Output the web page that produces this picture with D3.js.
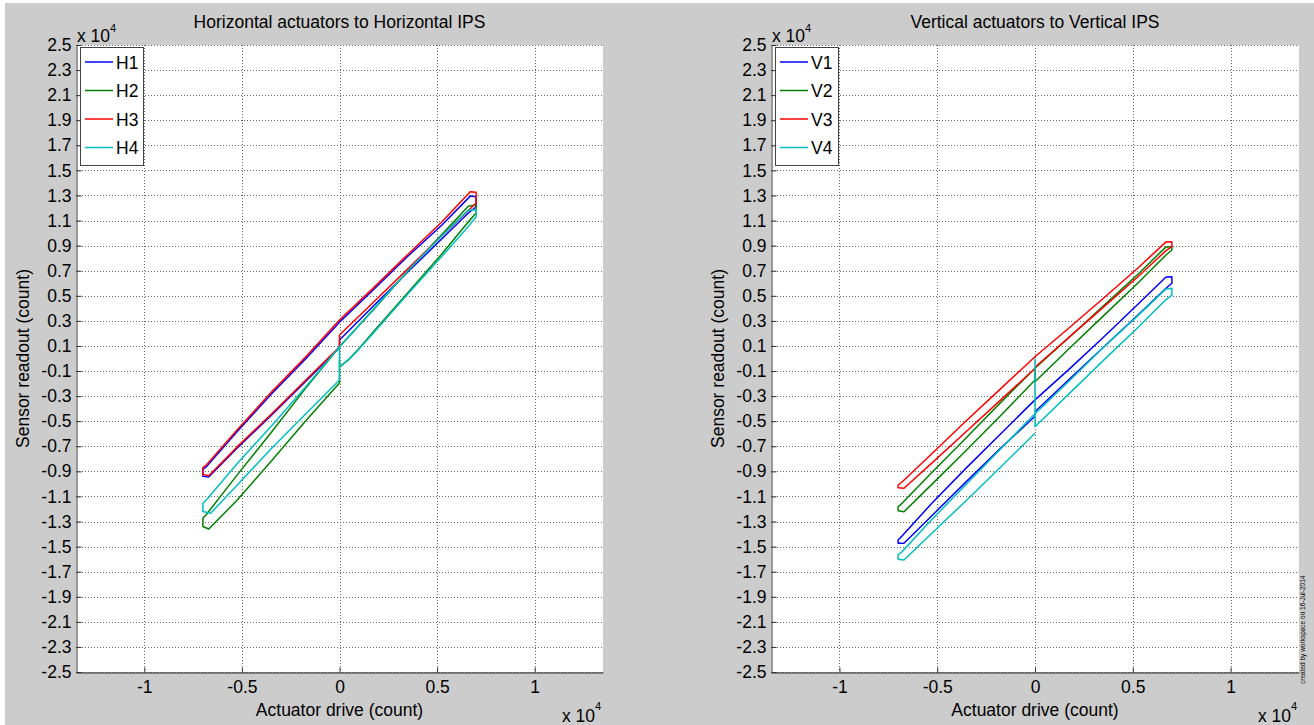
<!DOCTYPE html>
<html><head><meta charset="utf-8">
<script src="https://cdn.jsdelivr.net/npm/d3@7"></script>
<style>
html,body{margin:0;padding:0;background:#fff;}
svg{display:block;}
text{font-family:"Liberation Sans",Arial,Helvetica,sans-serif;fill:#000;}
</style></head>
<body>
<svg id="fig" width="1314" height="725"></svg>
<script>
// ---------- data ----------
const xTickVals = [-10000, -5000, 0, 5000, 10000];
const xTickLabels = ["-1", "-0.5", "0", "0.5", "1"];
const yTickVals = [25000, 23000, 21000, 19000, 17000, 15000, 13000, 11000, 9000, 7000, 5000, 3000, 1000,
  -1000, -3000, -5000, -7000, -9000, -11000, -13000, -15000, -17000, -19000, -21000, -23000, -25000];
const yTickLabels = ["2.5", "2.3", "2.1", "1.9", "1.7", "1.5", "1.3", "1.1", "0.9", "0.7", "0.5", "0.3", "0.1",
  "-0.1", "-0.3", "-0.5", "-0.7", "-0.9", "-1.1", "-1.3", "-1.5", "-1.7", "-1.9", "-2.1", "-2.3", "-2.5"];

const hNames = ["H1", "H2", "H3", "H4"];
const vNames = ["V1", "V2", "V3", "V4"];
const seriesColors = ["#0000ff", "#008000", "#ff0000", "#00bfbf"];

// [actuator drive, sensor readout]
const H1 = [[0,1475],[1750,4200],[3500,6900],[5250,9550],[6600,11600],[7000,12100],[7000,12900],[6700,12950],
  [5250,10650],[3500,8150],[1750,5500],[0,2900],[-1750,-50],[-3500,-2850],[-5250,-5850],[-6800,-8600],[-7000,-8850],
  [-7000,-9400],[-6700,-9450],[-5250,-7150],[-3500,-4550],[-1750,-1850],[0,850],[0,1475]];
const H2 = [[0,-120],[0,-700],[500,-50],[1000,800],[1750,2150],[3500,5250],[5250,8350],[6500,10700],[7000,11600],[7000,12250],
  [6600,12150],[5250,9900],[3500,6980],[1750,3900],[0,940],[-1750,-2400],[-3500,-5900],[-5250,-9300],[-6800,-12400],
  [-7000,-12740],[-7000,-13400],[-6700,-13600],[-5250,-11300],[-3500,-8200],[-1750,-5000],[0,-1950],[0,-700]];
const H3 = [[0,1870],[1750,4500],[3500,7150],[5250,9800],[6600,11800],[7000,12400],[7000,13250],[6700,13300],
  [5250,10900],[3500,8300],[1750,5650],[0,3070],[-1750,100],[-3500,-2700],[-5250,-5700],[-6800,-8450],[-7000,-8700],
  [-7000,-9250],[-6700,-9350],[-5250,-7050],[-3500,-4450],[-1750,-1750],[0,940],[0,1870]];
const H4 = [[0,940],[0,-650],[500,-50],[1000,750],[1750,2050],[3500,5150],[5250,8150],[6500,10350],[7000,11310],[7000,11840],
  [6600,11840],[5250,9800],[3500,7000],[1750,3950],[0,940],[-1750,-2300],[-3500,-5400],[-5250,-8400],[-6800,-11250],
  [-7000,-11540],[-7000,-12200],[-6600,-12340],[-5250,-10100],[-3500,-7200],[-1750,-4450],[0,-1710],[0,-650]];

const V1 = [[0,-4240],[1750,-1650],[3500,900],[5250,3450],[6700,5600],[7000,6000],[7000,6520],[6700,6500],
  [5250,4300],[3500,1700],[1750,-850],[0,-3300],[-1750,-6000],[-3500,-8700],[-5250,-11500],[-6800,-14150],[-7000,-14470],
  [-7000,-14740],[-6700,-14740],[-5250,-12500],[-3500,-9800],[-1750,-7150],[0,-4600]];
const V2 = [[0,-780],[0,-1850],[1750,800],[3500,3400],[5250,6000],[6700,8250],[7000,8650],[7000,8920],[6700,8900],
  [5250,6700],[3500,4200],[1750,1700],[0,-780],[-1750,-3500],[-3500,-6300],[-5250,-9050],[-6800,-11550],[-7000,-11820],
  [-7000,-12150],[-6700,-12220],[-5250,-10000],[-3500,-7300],[-1750,-4550],[0,-1710]];
const V3 = [[0,-700],[1750,1700],[3500,4100],[5250,6500],[6700,8600],[7000,8920],[7000,9310],[6700,9300],
  [5250,7200],[3500,4800],[1750,2450],[0,140],[-1750,-2400],[-3500,-4950],[-5250,-7550],[-6800,-9850],[-7000,-10090],
  [-7000,-10300],[-6700,-10350],[-5250,-8300],[-3500,-5800],[-1750,-3300],[0,-800]];
const V4 = [[0,0],[0,-5440],[1750,-2800],[3500,-150],[5250,2450],[6700,4700],[7000,5060],[7000,5600],[6700,5550],
  [5250,3400],[3500,900],[1750,-1800],[0,-4400],[-1750,-7200],[-3500,-10000],[-5250,-12800],[-6800,-15400],[-7000,-15670],
  [-7000,-16000],[-6700,-16070],[-5250,-13900],[-3500,-11300],[-1750,-8650],[0,-5960]];

const panels = [
  {title: "Horizontal actuators to Horizontal IPS", names: hNames, data: [H1, H2, H3, H4], left: 76, right: 603},
  {title: "Vertical actuators to Vertical IPS", names: vNames, data: [V1, V2, V3, V4], left: 771, right: 1299}
];

// ---------- drawing ----------
const FS = "17.5px";
const svg = d3.select("#fig");
svg.append("rect").attr("x", 5).attr("y", 3).attr("width", 1309).attr("height", 722).attr("fill", "#cccccc");

const axTop = 45, axBottom = 672;
const yScale = d3.scaleLinear().domain([-25000, 25000]).range([axBottom, axTop]);

panels.forEach((p) => {
  const x = d3.scaleLinear().domain([-13500, 13500]).range([p.left, p.right]);
  const y = yScale;
  const g = svg.append("g");
  const cx = x(0);

  g.append("rect").attr("x", p.left).attr("y", axTop).attr("width", p.right - p.left).attr("height", axBottom - axTop).attr("fill", "#fff");

  // grid
  const grid = g.append("g").attr("stroke", "#666").attr("stroke-width", 1).attr("stroke-dasharray", "1,2");
  grid.selectAll("line.gy").data(yTickVals).enter().append("line")
    .attr("x1", p.left).attr("x2", p.right)
    .attr("y1", d => Math.round(y(d)) + 0.5).attr("y2", d => Math.round(y(d)) + 0.5);
  grid.selectAll("line.gx").data(xTickVals).enter().append("line")
    .attr("y1", axTop).attr("y2", axBottom)
    .attr("x1", d => Math.round(x(d)) + 0.5).attr("x2", d => Math.round(x(d)) + 0.5);

  // axes via d3 axis
  const yAxis = d3.axisLeft(y).tickValues(yTickVals).tickFormat((d, i) => yTickLabels[i]).tickSizeInner(-5).tickSizeOuter(0).tickPadding(5);
  const ya = g.append("g").attr("transform", `translate(${p.left + 0.5},0)`).call(yAxis);
  ya.select(".domain").attr("stroke", "#333");
  ya.selectAll(".tick line").attr("stroke", "#333");
  ya.selectAll(".tick text").style("font-size", FS).attr("fill", "#000").style("font-family", "Liberation Sans, Arial, sans-serif");

  const xAxis = d3.axisBottom(x).tickValues(xTickVals).tickFormat((d, i) => xTickLabels[i]).tickSizeInner(-5).tickSizeOuter(0).tickPadding(8);
  const xa = g.append("g").attr("transform", `translate(0,${axBottom + 0.5})`).call(xAxis);
  xa.select(".domain").attr("stroke", "#333");
  xa.selectAll(".tick line").attr("stroke", "#333");
  xa.selectAll(".tick text").style("font-size", FS).attr("fill", "#000").style("font-family", "Liberation Sans, Arial, sans-serif");

  // series
  const line = d3.line().x(d => x(d[0])).y(d => y(d[1]));
  p.data.forEach((s, i) => {
    g.append("path").attr("d", line(s)).attr("fill", "none").attr("stroke", seriesColors[i])
      .attr("stroke-width", 1.5).attr("stroke-linejoin", "round");
  });

  // legend
  const lg = g.append("g");
  lg.append("rect").attr("x", p.left + 4.5).attr("y", axTop + 2.5).attr("width", 63).attr("height", 118)
    .attr("fill", "#fff").attr("stroke", "#444").attr("stroke-width", 1);
  p.names.forEach((n, i) => {
    const ly = axTop + 17 + i * 28.5;
    lg.append("line").attr("x1", p.left + 9).attr("x2", p.left + 37).attr("y1", ly).attr("y2", ly)
      .attr("stroke", seriesColors[i]).attr("stroke-width", 1.5);
    lg.append("text").attr("x", p.left + 40).attr("y", ly + 6.5).style("font-size", FS).text(n);
  });

  // titles & labels
  g.append("text").attr("x", cx).attr("y", 28).attr("text-anchor", "middle").style("font-size", FS).text(p.title);
  g.append("text").attr("x", cx).attr("y", 716).attr("text-anchor", "middle").style("font-size", FS).text("Actuator drive (count)");
  g.append("text").attr("transform", `translate(${p.left - 47},${(axTop + axBottom) / 2}) rotate(-90)`)
    .attr("text-anchor", "middle").style("font-size", FS).text("Sensor readout (count)");

  // exponent labels
  const e1 = g.append("text").attr("x", p.left + 1).attr("y", 42).style("font-size", FS);
  e1.append("tspan").text("x 10");
  e1.append("tspan").attr("dy", -10).style("font-size", "11px").text("4");
  const e2 = g.append("text").attr("x", p.right - 41).attr("y", 722).style("font-size", FS);
  e2.append("tspan").text("x 10");
  e2.append("tspan").attr("dy", -12).style("font-size", "11px").text("4");
});

svg.append("text").attr("transform", "translate(1305,684) rotate(-90)").style("font-size", "6.5px")
  .text("created by workspace on 16-Jul-2014");
</script>
</body></html>
